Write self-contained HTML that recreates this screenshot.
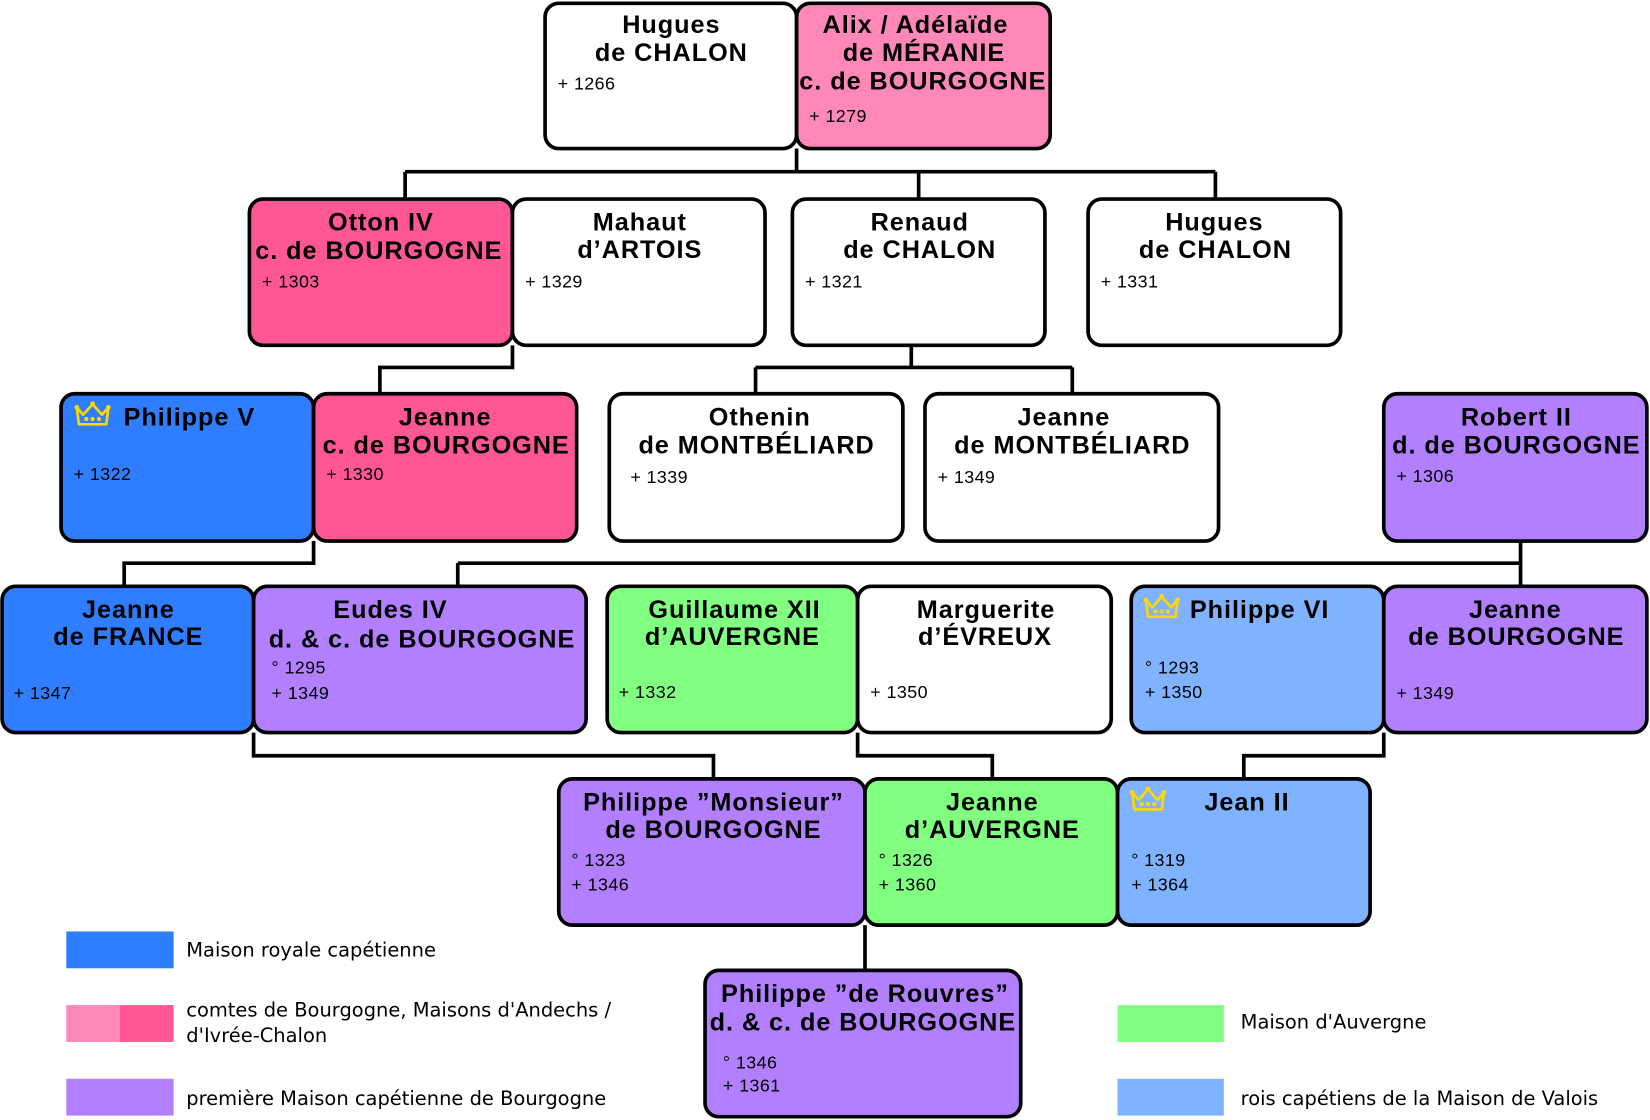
<!DOCTYPE html>
<html><head><meta charset="utf-8"><style>
html,body{margin:0;padding:0;background:#fff;}
svg{display:block;}
.n{font-family:"Liberation Sans","DejaVu Sans",sans-serif;font-weight:bold;font-size:24px;letter-spacing:0.9px;fill:#000;text-anchor:middle;}
.d{font-family:"Liberation Sans","DejaVu Sans",sans-serif;font-size:17px;letter-spacing:0.4px;fill:#000;}
.l{font-family:"DejaVu Sans","Liberation Sans",sans-serif;font-size:18.5px;fill:#000;}
rect.b{stroke:#000;stroke-width:3.5;}
path.c{fill:none;stroke:#000;stroke-width:3.5;}
</style></head><body>
<svg width="1650" height="1120" viewBox="0 0 1568 1064" xmlns="http://www.w3.org/2000/svg">
<defs>
<g id="crown">
<path d="M2,6 L8,13 L17,3 L26,13 L32,6 L30,22 L4,22 Z" fill="none" stroke="#ffd700" stroke-width="2.5" stroke-linejoin="round"/>
<circle cx="2" cy="6" r="2.3" fill="#ffd700"/><circle cx="17" cy="2.5" r="2.3" fill="#ffd700"/><circle cx="32" cy="6" r="2.3" fill="#ffd700"/>
<circle cx="11" cy="17" r="2" fill="#ffd700"/><circle cx="17" cy="17" r="2" fill="#ffd700"/><circle cx="23" cy="17" r="2" fill="#ffd700"/>
</g>
</defs>
<path class="c" d="M757,141 V163 M385,163 H1155 M385,163 V189 M873,163 V189 M1155,163 V189"/>
<path class="c" d="M487,328 V349 H361 V374"/>
<path class="c" d="M866,328 V349 M718,349 H1019 M718,349 V374 M1019,349 V374"/>
<path class="c" d="M298,514 V535 H118 V557"/>
<path class="c" d="M1445,514 V557 M435,535 H1445 M435,535 V557"/>
<path class="c" d="M241,696 V718 H678 V740"/>
<path class="c" d="M815,696 V718 H943 V740"/>
<path class="c" d="M1315,696 V718 H1182 V740"/>
<path class="c" d="M822,879 V922"/>

<rect class="b" x="518" y="3" width="239" height="138" rx="13" fill="#fff"/>
<text class="n" x="638" y="31">Hugues</text><text class="n" x="638" y="58">de CHALON</text>
<text class="d" x="530" y="85">+ 1266</text>
<rect class="b" x="757" y="3" width="241" height="138" rx="13" fill="#ff88b8"/>
<text class="n" x="870" y="31">Alix / Adélaïde</text><text class="n" x="878" y="58">de MÉRANIE</text><text class="n" x="877" y="85">c. de BOURGOGNE</text>
<text class="d" x="769" y="116">+ 1279</text>

<rect class="b" x="237" y="189" width="250" height="139" rx="13" fill="#ff5793"/>
<text class="n" x="362" y="219">Otton IV</text><text class="n" x="360" y="246">c. de BOURGOGNE</text>
<text class="d" x="249" y="273">+ 1303</text>
<rect class="b" x="487" y="189" width="240" height="139" rx="13" fill="#fff"/>
<text class="n" x="608" y="219">Mahaut</text><text class="n" x="608" y="245">d’ARTOIS</text>
<text class="d" x="499" y="273">+ 1329</text>
<rect class="b" x="753" y="189" width="240" height="139" rx="13" fill="#fff"/>
<text class="n" x="874" y="219">Renaud</text><text class="n" x="874" y="245">de CHALON</text>
<text class="d" x="765" y="273">+ 1321</text>
<rect class="b" x="1034" y="189" width="240" height="139" rx="13" fill="#fff"/>
<text class="n" x="1154" y="219">Hugues</text><text class="n" x="1155" y="245">de CHALON</text>
<text class="d" x="1046" y="273">+ 1331</text>

<rect class="b" x="58" y="374" width="240" height="140" rx="13" fill="#2f7eff"/>
<use href="#crown" x="71" y="381"/>
<text class="n" x="180" y="404">Philippe V</text>
<text class="d" x="70" y="456">+ 1322</text>
<rect class="b" x="298" y="374" width="250" height="140" rx="13" fill="#ff5793"/>
<text class="n" x="423" y="404">Jeanne</text><text class="n" x="424" y="431">c. de BOURGOGNE</text>
<text class="d" x="310" y="456">+ 1330</text>
<rect class="b" x="579" y="374" width="279" height="140" rx="13" fill="#fff"/>
<text class="n" x="722" y="404">Othenin</text><text class="n" x="719" y="431">de MONTBÉLIARD</text>
<text class="d" x="599" y="459">+ 1339</text>
<rect class="b" x="879" y="374" width="279" height="140" rx="13" fill="#fff"/>
<text class="n" x="1011" y="404">Jeanne</text><text class="n" x="1019" y="431">de MONTBÉLIARD</text>
<text class="d" x="891" y="459">+ 1349</text>
<rect class="b" x="1315" y="374" width="250" height="140" rx="13" fill="#b280ff"/>
<text class="n" x="1441" y="404">Robert II</text><text class="n" x="1441" y="431">d. de BOURGOGNE</text>
<text class="d" x="1327" y="458">+ 1306</text>

<rect class="b" x="2" y="557" width="239" height="139" rx="13" fill="#2f7eff"/>
<text class="n" x="122" y="587">Jeanne</text><text class="n" x="122" y="613">de FRANCE</text>
<text class="d" x="13" y="664">+ 1347</text>
<rect class="b" x="241" y="557" width="316" height="139" rx="13" fill="#b280ff"/>
<text class="n" x="371" y="587">Eudes IV</text><text class="n" x="401" y="615">d. &amp; c. de BOURGOGNE</text>
<text class="d" x="258" y="640">° 1295</text><text class="d" x="258" y="664">+ 1349</text>
<rect class="b" x="577" y="557" width="238" height="139" rx="13" fill="#80ff80"/>
<text class="n" x="698" y="587">Guillaume XII</text><text class="n" x="696" y="613">d’AUVERGNE</text>
<text class="d" x="588" y="663">+ 1332</text>
<rect class="b" x="815" y="557" width="241" height="139" rx="13" fill="#fff"/>
<text class="n" x="937" y="587">Marguerite</text><text class="n" x="936" y="613">d’ÉVREUX</text>
<text class="d" x="827" y="663">+ 1350</text>
<rect class="b" x="1075" y="557" width="240" height="139" rx="13" fill="#80b3ff"/>
<use href="#crown" x="1087" y="564"/>
<text class="n" x="1197" y="587">Philippe VI</text>
<text class="d" x="1088" y="640">° 1293</text><text class="d" x="1088" y="663">+ 1350</text>
<rect class="b" x="1315" y="557" width="250" height="139" rx="13" fill="#b280ff"/>
<text class="n" x="1440" y="587">Jeanne</text><text class="n" x="1441" y="613">de BOURGOGNE</text>
<text class="d" x="1327" y="664">+ 1349</text>

<rect class="b" x="531" y="740" width="291" height="139" rx="13" fill="#b280ff"/>
<text class="n" x="678" y="770">Philippe ”Monsieur”</text><text class="n" x="678" y="796">de BOURGOGNE</text>
<text class="d" x="543" y="823">° 1323</text><text class="d" x="543" y="846">+ 1346</text>
<rect class="b" x="822" y="740" width="240" height="139" rx="13" fill="#80ff80"/>
<text class="n" x="943" y="770">Jeanne</text><text class="n" x="943" y="796">d’AUVERGNE</text>
<text class="d" x="835" y="823">° 1326</text><text class="d" x="835" y="846">+ 1360</text>
<rect class="b" x="1062" y="740" width="240" height="139" rx="13" fill="#80b3ff"/>
<use href="#crown" x="1074" y="747"/>
<text class="n" x="1185" y="770">Jean II</text>
<text class="d" x="1075" y="823">° 1319</text><text class="d" x="1075" y="846">+ 1364</text>

<rect class="b" x="670" y="922" width="300" height="139" rx="13" fill="#b280ff"/>
<text class="n" x="822" y="952">Philippe ”de Rouvres”</text><text class="n" x="820" y="979">d. &amp; c. de BOURGOGNE</text>
<text class="d" x="687" y="1015">° 1346</text><text class="d" x="687" y="1037">+ 1361</text>

<rect x="63" y="885" width="102" height="35" fill="#2f7eff"/>
<text class="l" x="177" y="909">Maison royale capétienne</text>
<rect x="63" y="955" width="51" height="35" fill="#ff88b8"/>
<rect x="114" y="955" width="51" height="35" fill="#ff5793"/>
<text class="l" x="177" y="966">comtes de Bourgogne, Maisons d'Andechs /</text>
<text class="l" x="177" y="990">d'Ivrée-Chalon</text>
<rect x="63" y="1025" width="102" height="35" fill="#b280ff"/>
<text class="l" x="177" y="1050">première Maison capétienne de Bourgogne</text>
<rect x="1062" y="955" width="101" height="35" fill="#80ff80"/>
<text class="l" x="1179" y="977">Maison d'Auvergne</text>
<rect x="1062" y="1025" width="101" height="35" fill="#80b3ff"/>
<text class="l" x="1179" y="1050">rois capétiens de la Maison de Valois</text>
</svg>
</body></html>
